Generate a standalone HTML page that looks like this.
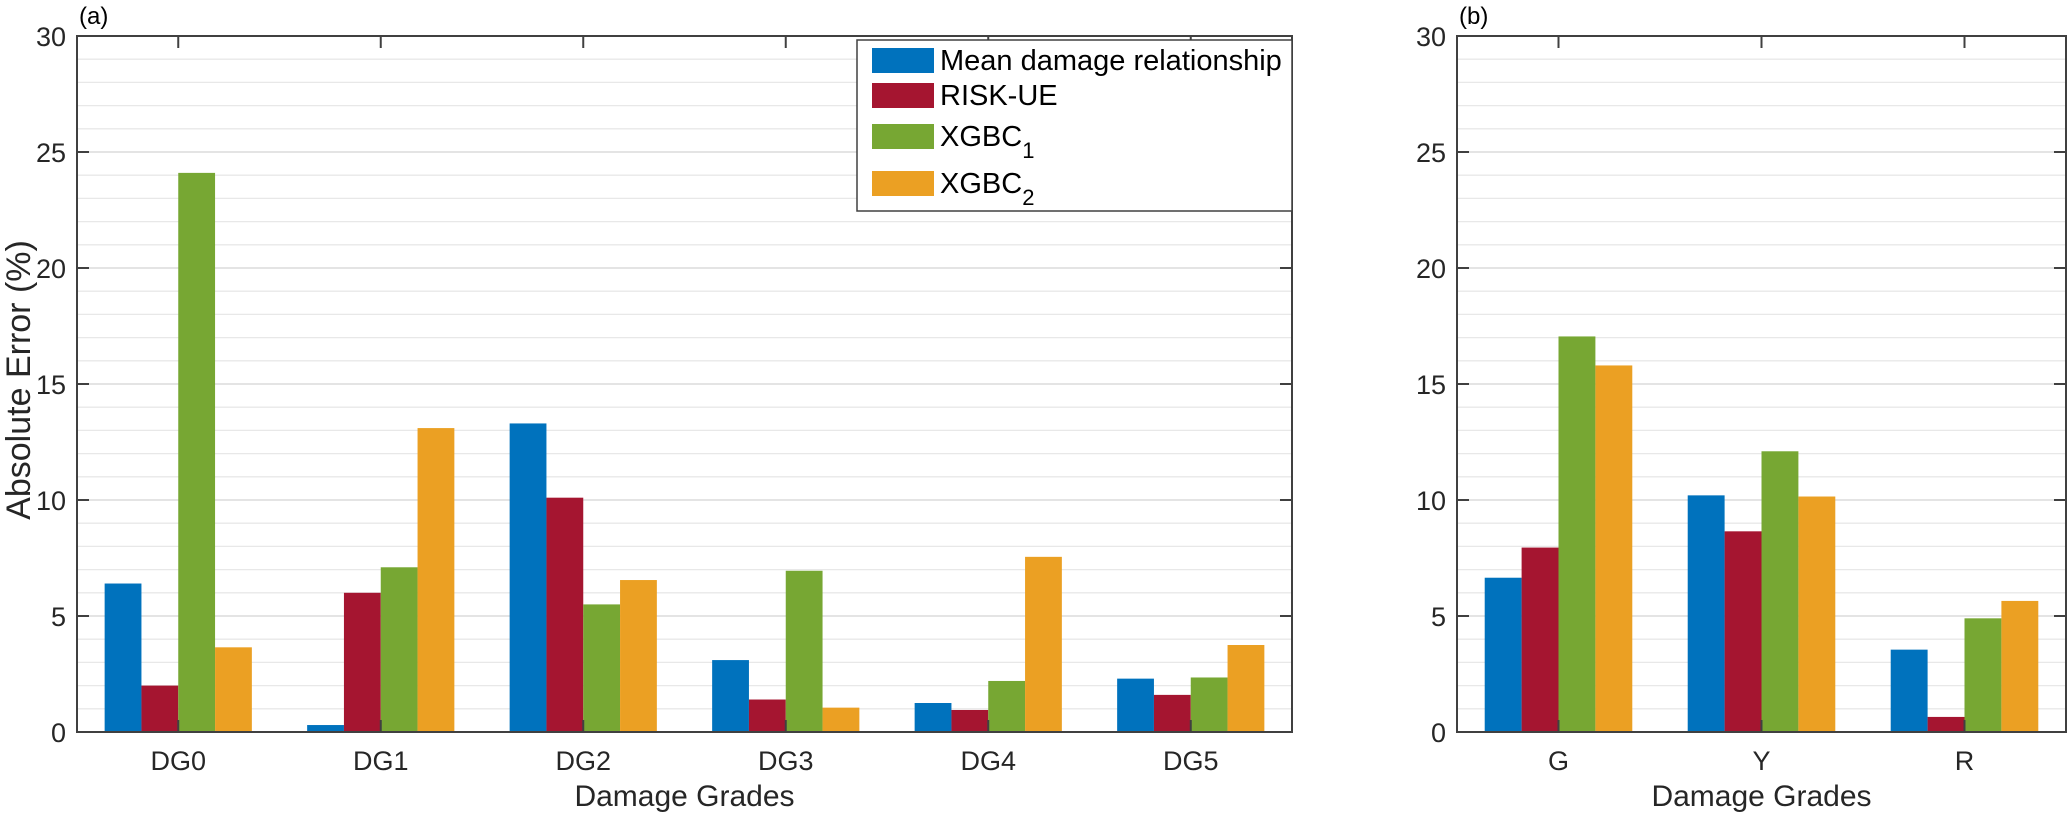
<!DOCTYPE html>
<html><head><meta charset="utf-8">
<style>
html,body{margin:0;padding:0;background:#fff;}
svg{display:block;font-family:"Liberation Sans",sans-serif;}
</style></head>
<body>
<svg id="fig" width="2067" height="814" viewBox="0 0 2067 814" xmlns="http://www.w3.org/2000/svg">
</svg>
<script>
const catsA = ["DG0","DG1","DG2","DG3","DG4","DG5"];
const catsB = ["G","Y","R"];
const seriesNames = ["Mean damage relationship","RISK-UE","XGBC1","XGBC2"];
const seriesColors = ["#0072BD","#A51530","#77A733","#EBA023"];
const meanA = [6.4, 0.3, 13.3, 3.1, 1.25, 2.3];
const riskA = [2.0, 6.0, 10.1, 1.4, 0.95, 1.6];
const xgb1A = [24.1, 7.1, 5.5, 6.95, 2.2, 2.35];
const xgb2A = [3.65, 13.1, 6.55, 1.05, 7.55, 3.75];
const meanB = [6.65, 10.2, 3.55];
const riskB = [7.95, 8.65, 0.65];
const xgb1B = [17.05, 12.1, 4.9];
const xgb2B = [15.8, 10.15, 5.65];
const yTicks = [0,5,10,15,20,25,30];

const NS="http://www.w3.org/2000/svg";
const svg=document.getElementById('fig');
function mk(tag,attrs,parent){const e=document.createElementNS(NS,tag);for(const k in attrs)e.setAttribute(k,attrs[k]);(parent||svg).appendChild(e);return e;}

function drawPanel(p){
  const g=mk('g',{});
  
  
  const n=p.cats.length;
  const xs=i=>p.x0+(i+0.5)*(p.x1-p.x0)/n;
  const ys=v=>p.y1-(v/30)*(p.y1-p.y0);
  for(let v=1;v<30;v++){
    const ln=mk('line',{x1:p.x0,x2:p.x1,y1:ys(v),y2:ys(v),stroke:(v%5===0)?'#d4d4d4':'#e8e8e8','stroke-width':1.3},g);
    
    
  }
  const gw=0.727, bw=gw/4;
  const step=(p.x1-p.x0)/n;
  p.series.forEach((arr,s)=>{
    arr.forEach((v,i)=>{
      const cx=xs(i)+(-gw/2+bw*(s+0.5))*step;
      const r=mk('rect',{x:cx-bw*step/2,y:ys(v),width:bw*step,height:ys(0)-ys(v),fill:seriesColors[s]},g);
      
      
    });
  });
  const box=mk('rect',{x:p.x0,y:p.y0,width:p.x1-p.x0,height:p.y1-p.y0,fill:'none',stroke:'#404040','stroke-width':2},g);
  
  
  yTicks.forEach(t=>{
    mk('line',{x1:p.x0,x2:p.x0+12,y1:ys(t),y2:ys(t),stroke:'#404040','stroke-width':2},g);
    mk('line',{x1:p.x1,x2:p.x1-12,y1:ys(t),y2:ys(t),stroke:'#404040','stroke-width':2},g);
    const tx=mk('text',{x:p.x0-11,y:ys(t)+10,'text-anchor':'end','font-size':27,fill:'#262626'},g);
    tx.textContent=t;
    
    
  });
  p.cats.forEach((c,i)=>{
    mk('line',{x1:xs(i),x2:xs(i),y1:p.y1,y2:p.y1-12,stroke:'#404040','stroke-width':2},g);
    mk('line',{x1:xs(i),x2:xs(i),y1:p.y0,y2:p.y0+12,stroke:'#404040','stroke-width':2},g);
    const tx=mk('text',{x:xs(i),y:p.y1+38,'text-anchor':'middle','font-size':27,fill:'#262626'},g);
    tx.textContent=c;
    
    
  });
  const xl=mk('text',{x:(p.x0+p.x1)/2,y:p.y1+74,'text-anchor':'middle','font-size':30,fill:'#262626'},g);
  xl.textContent='Damage Grades';
  
  
  const pl=mk('text',{x:p.x0+2,y:24,'font-size':24,fill:'#000'},g);
  pl.textContent=p.label;
  
  
}

drawPanel({name:'panel-a',label:'(a)',cats:catsA,series:[meanA,riskA,xgb1A,xgb2A],x0:77,x1:1292,y0:36,y1:732});
drawPanel({name:'panel-b',label:'(b)',cats:catsB,series:[meanB,riskB,xgb1B,xgb2B],x0:1457,x1:2066,y0:36,y1:732});

const yt=mk('text',{x:0,y:0,'text-anchor':'middle','font-size':34,fill:'#262626',transform:'translate(30,380) rotate(-90)'});
yt.textContent='Absolute Error (%)';



const lg=mk('g',{});


mk('rect',{x:857,y:40,width:435,height:171,fill:'#fff',stroke:'#404040','stroke-width':1.5},lg);
const ly=[60,95,136,183];
const labels=[["Mean damage relationship",""],["RISK-UE",""],["XGBC","1"],["XGBC","2"]];
labels.forEach((l,i)=>{
  const e=mk('g',{},lg);
  
  
  mk('rect',{x:872,y:ly[i]-12,width:62,height:25,fill:seriesColors[i]},e);
  const t=mk('text',{x:940,y:ly[i]+10,'font-size':29,fill:'#000'},e);
  t.textContent=l[0];
  if(l[1]){const s=mk('tspan',{dy:12,'font-size':22},t);s.textContent=l[1];}
});
</script>
</body></html>
